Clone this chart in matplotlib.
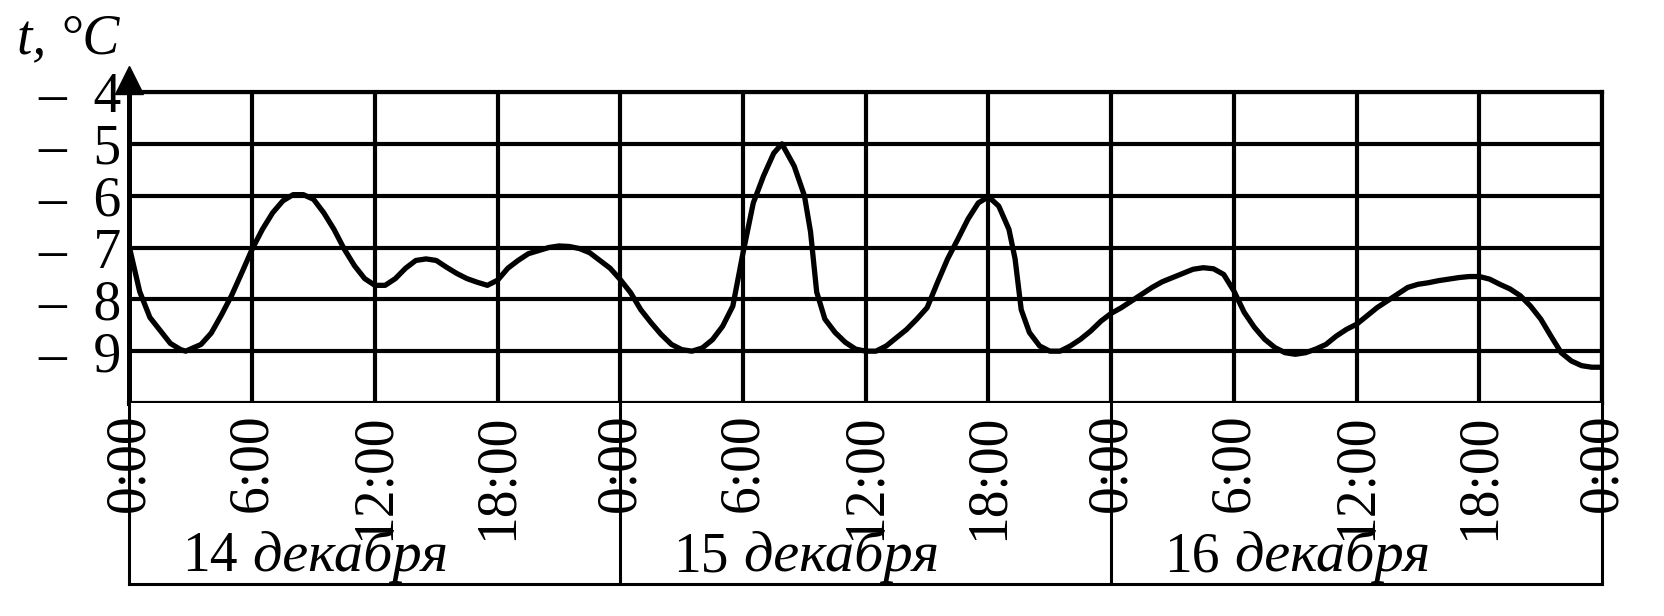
import matplotlib
matplotlib.use("Agg")
import matplotlib.pyplot as plt
import matplotlib.transforms as mtransforms

# Температура воздуха, 14-16 декабря (часы от начала 14 декабря)
hours_14 = [0, 0.5, 1, 1.5, 2, 2.5, 2.75, 3.5, 4, 4.5, 5, 5.5, 6, 6.5, 7, 7.5,
            8, 8.5, 9, 9.5, 10, 10.5, 11, 11.5, 12, 12.5, 13, 13.5, 14, 14.5,
            15, 15.5, 16, 16.5, 17, 17.5, 18, 18.5, 19, 19.5, 20, 20.5, 21,
            21.5, 22, 22.5, 23, 23.5]
temps_14 = [-7.0, -7.85, -8.35, -8.6, -8.85, -8.97, -9.0, -8.87, -8.65, -8.3,
            -7.92, -7.48, -7.03, -6.65, -6.33, -6.1, -5.98, -5.98, -6.07,
            -6.33, -6.65, -7.03, -7.35, -7.6, -7.73, -7.73, -7.6, -7.4, -7.25,
            -7.22, -7.25, -7.38, -7.5, -7.6, -7.67, -7.73, -7.63, -7.4, -7.25,
            -7.12, -7.06, -7.0, -6.97, -6.98, -7.02, -7.1, -7.25, -7.4]

hours_15 = [24, 24.5, 25, 25.5, 26, 26.5, 27, 27.5, 28, 28.5, 29, 29.5, 30,
            30.5, 31, 31.5, 31.9, 32.5, 33, 33.3, 33.6, 34, 34.5, 35, 35.5, 36,
            36.5, 37, 37.5, 38, 38.5, 39, 39.5, 40, 40.5, 41, 41.5, 42, 42.5,
            43, 43.3, 43.6, 44, 44.5, 45, 45.5, 46, 46.5, 47, 47.5]
temps_15 = [-7.62, -7.87, -8.2, -8.45, -8.68, -8.87, -8.97, -9.0, -8.94, -8.78,
            -8.52, -8.13, -7.1, -6.14, -5.62, -5.18, -5.0, -5.43, -6.0, -6.7,
            -7.86, -8.38, -8.64, -8.83, -8.96, -9.0, -9.0, -8.9, -8.74, -8.58,
            -8.38, -8.16, -7.68, -7.22, -6.84, -6.45, -6.14, -6.02, -6.2,
            -6.65, -7.22, -8.2, -8.64, -8.9, -9.0, -9.0, -8.9, -8.77, -8.61,
            -8.42]

hours_16 = [48, 48.5, 49, 49.5, 50, 50.5, 51, 51.5, 52, 52.5, 53, 53.5, 54,
            54.5, 55, 55.5, 56, 56.5, 57, 57.5, 58, 58.5, 59, 59.5, 60, 60.5,
            61, 61.5, 62, 62.5, 63, 63.5, 64, 64.5, 65, 65.5, 66, 66.5, 67,
            67.5, 68, 68.5, 69, 69.5, 70, 70.5, 71, 71.5, 72]
temps_16 = [-8.27, -8.16, -8.03, -7.9, -7.77, -7.66, -7.58, -7.5, -7.42, -7.39,
            -7.41, -7.52, -7.84, -8.25, -8.54, -8.77, -8.93, -9.03, -9.06,
            -9.03, -8.96, -8.87, -8.71, -8.58, -8.48, -8.32, -8.16, -8.03,
            -7.9, -7.77, -7.71, -7.68, -7.64, -7.61, -7.58, -7.56, -7.56,
            -7.61, -7.71, -7.8, -7.93, -8.13, -8.38, -8.71, -9.03, -9.19,
            -9.28, -9.31, -9.31]

time_ticks = [0, 6, 12, 18, 24, 30, 36, 42, 48, 54, 60, 66, 72]
time_labels = ["0:00", "6:00", "12:00", "18:00"] * 3 + ["0:00"]
day_starts = [0, 24, 48]
day_numbers = ["14", "15", "16"]
month = "декабря"
temp_ticks = [-9, -8, -7, -6, -5, -4]
temp_labels = ["\u2013\u20029", "\u2013\u20028", "\u2013\u20027",
               "\u2013\u20026", "\u2013\u20025", "\u2013\u20024"]

plt.rcParams['font.family'] = ['Liberation Serif', 'DejaVu Serif']

fig = plt.figure(figsize=(16.64, 6.16), dpi=100)
ax = fig.add_axes([0.0778, 0.3458, 0.885, 0.5048])
box = fig.add_axes([0.0778, 0.052, 0.885, 0.2938], sharex=ax)

hours = hours_14 + hours_15 + hours_16
temps = temps_14 + temps_15 + temps_16
ax.plot(hours, temps, color='k', lw=3.8, solid_joinstyle='round',
        solid_capstyle='round', zorder=3)
ax.set_xlim(0, 72)
ax.set_ylim(-10, -4)
ax.set_xticks(time_ticks)
ax.set_yticks(temp_ticks)
ax.set_yticklabels(temp_labels, fontsize=40)
ax.tick_params(axis='y', length=0, pad=6)
ax.tick_params(axis='x', length=0, labelbottom=False)
ax.grid(True, color='k', lw=3.0)
for s in ax.spines.values():
    s.set_linewidth(3.0)
ax.spines['left'].set_linewidth(3.6)

# стрелка оси температуры
tr = mtransforms.offset_copy(ax.transData, fig=fig, y=9, units='points')
ax.plot([0], [-4], marker='^', ms=20, color='k', transform=tr, clip_on=False)

fig.text(0.01, 1 - 53 / 616, "t, °C", fontsize=40, style='italic', va='baseline')

# таблица с датами под графиком
box.set_ylim(0, 1)
box.tick_params(length=0, labelbottom=False, labelleft=False)
for s in box.spines.values():
    s.set_linewidth(2.2)
box.spines['top'].set_visible(False)
for d in day_starts[1:]:
    box.axvline(d, color='k', lw=2.2)
for t, lab in zip(time_ticks, time_labels):
    box.text(t, 0.94, lab, rotation=90, ha='center', va='top', fontsize=40)
for d, num in zip(day_starts, day_numbers):
    box.text(d + 5.3, 0.07, num, ha='right', va='baseline', fontsize=40)
    box.text(d + 6.0, 0.07, month, ha='left', va='baseline', fontsize=42,
             style='italic')

fig.savefig("out.png", dpi=100)
